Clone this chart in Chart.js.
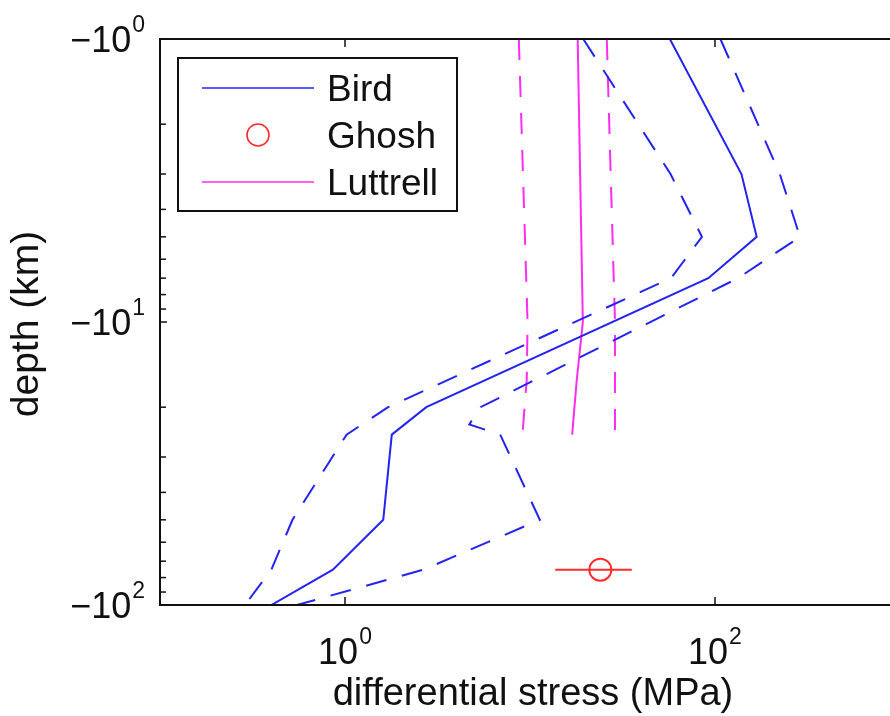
<!DOCTYPE html>
<html>
<head>
<meta charset="utf-8">
<script src="https://cdn.jsdelivr.net/npm/chart.js@4"></script>
<style>
  html, body { margin: 0; padding: 0; background: #fff; overflow: hidden; }
  canvas { display: block; }
</style>
</head>
<body>
<canvas id="c" width="890" height="716"></canvas>
<script>
// depth in km (plotted as -depth), stress in MPa
const birdDepth = [1, 3, 5, 7, 20, 25, 50, 75, 100];
const birdStress = [57, 139, 168, 92, 2.75, 1.79, 1.61, 0.86, 0.40];
const birdLeftStress = [19.4, 57.5, 85, 57.8, 1.71, 1.02, 0.52, 0.40, 0.288];
const birdRightDepth = [1, 3, 5, 7, 20, 23, 25, 50, 75, 100];
const birdRightStress = [107, 224, 288, 133, 5.4, 4.7, 6.9, 11.3, 2.66, 0.55];

const ghoshDepth = [75];
const ghoshStress = [24];
const ghoshRange = [13.7, 35.5];

const luttrellDepth = [1, 10, 16, 25];
const luttrellStress = [18.1, 19.3, 17.9, 16.9];
const luttrellLeft = [8.7, 9.7, 9.6, 9.1];
const luttrellRight = [26, 28.8, 28.8, 28.8];

const xTickExp = [0, 2];
const yTickExp = [0, 1, 2];
const yMinor = [2, 3, 4, 5, 6, 7, 8, 9];

const FONT = '"Liberation Sans", Arial, sans-serif';
const BLUE = "#2323f2";
const MAGENTA = "#ff2cf4";
const RED = "#ff2a2a";
const DASH = [21, 16];

function pts(xs, ys) {
  return xs.map((v, i) => ({ x: v, y: ys[i] }));
}

function line(label, data, color, dashed, legend) {
  return {
    label: label,
    data: data,
    showLine: true,
    borderColor: color,
    borderWidth: 2,
    borderDash: dashed ? DASH : [],
    pointRadius: 0,
    fill: false,
    tension: 0,
    inLegend: legend,
  };
}

function powerLabel(ctx, exp, x, y, align, minus) {
  const base = (minus ? "\u221210" : "10");
  ctx.font = "36px " + FONT;
  const wb = ctx.measureText(base).width;
  ctx.font = "23px " + FONT;
  const we = ctx.measureText(String(exp)).width;
  const w = wb + we + 1;
  let sx = x - w;
  if (align === "center") sx = x - w / 2;
  ctx.textAlign = "left";
  ctx.textBaseline = "alphabetic";
  ctx.font = "36px " + FONT;
  ctx.fillText(base, sx, y);
  ctx.font = "23px " + FONT;
  ctx.fillText(String(exp), sx + wb + 1, y - 20);
}

const axesPlugin = {
  id: "axesPlugin",
  afterDraw(chart) {
    const { ctx, chartArea: a } = chart;
    const xs = chart.scales.x, ys = chart.scales.y;
    ctx.save();
    ctx.strokeStyle = "#111";
    ctx.fillStyle = "#111";
    ctx.lineWidth = 2;

    // box (right side is outside the picture)
    ctx.beginPath();
    ctx.moveTo(a.right + 10, a.top);
    ctx.lineTo(a.left, a.top);
    ctx.lineTo(a.left, a.bottom);
    ctx.lineTo(a.right + 10, a.bottom);
    ctx.stroke();

    // x ticks, inward, top and bottom
    ctx.lineWidth = 1.5;
    xTickExp.forEach(e => {
      const px = xs.getPixelForValue(Math.pow(10, e));
      ctx.beginPath();
      ctx.moveTo(px, a.bottom); ctx.lineTo(px, a.bottom - 8);
      ctx.moveTo(px, a.top); ctx.lineTo(px, a.top + 8);
      ctx.stroke();
      powerLabel(ctx, e, px, a.bottom + 59, "center", false);
    });

    // y ticks (major + minor log ticks)
    yTickExp.forEach(e => {
      const py = ys.getPixelForValue(Math.pow(10, e));
      ctx.beginPath();
      ctx.moveTo(a.left, py); ctx.lineTo(a.left + 7, py);
      ctx.stroke();
      powerLabel(ctx, e, a.left - 15, py + 13, "right", true);
      if (e < 2) {
        yMinor.forEach(m => {
          const pm = ys.getPixelForValue(m * Math.pow(10, e));
          ctx.beginPath();
          ctx.moveTo(a.left, pm); ctx.lineTo(a.left + 6, pm);
          ctx.stroke();
        });
      }
    });

    // axis titles
    ctx.font = "38px " + FONT;
    ctx.textAlign = "center";
    ctx.textBaseline = "alphabetic";
    ctx.fillText("differential stress (MPa)", 533, 705);
    ctx.save();
    ctx.translate(38, 324);
    ctx.rotate(-Math.PI / 2);
    ctx.font = "39px " + FONT;
    ctx.fillText("depth (km)", 0, 0);
    ctx.restore();

    // legend
    const lx = 178, ly = 58, lw = 279, lh = 153;
    ctx.fillStyle = "#fff";
    ctx.fillRect(lx, ly, lw, lh);
    ctx.lineWidth = 2;
    ctx.strokeStyle = "#111";
    ctx.strokeRect(lx, ly, lw, lh);
    const rows = chart.data.datasets.filter(d => d.inLegend);
    rows.forEach((d, i) => {
      const ry = 88 + i * 47;
      ctx.setLineDash([]);
      if (d.showLine) {
        ctx.strokeStyle = d.borderColor;
        ctx.lineWidth = 1.6;
        ctx.beginPath();
        ctx.moveTo(202, ry); ctx.lineTo(314, ry);
        ctx.stroke();
      } else {
        ctx.strokeStyle = d.borderColor;
        ctx.lineWidth = 1.6;
        ctx.beginPath();
        ctx.arc(258, ry, 11, 0, Math.PI * 2);
        ctx.stroke();
      }
      ctx.fillStyle = "#111";
      ctx.font = "37px " + FONT;
      ctx.textAlign = "left";
      ctx.fillText(d.label, 327, ry + 13);
    });
    ctx.restore();
  }
};

const datasets = [
  line("Bird", pts(birdStress, birdDepth), BLUE, false, true),
  line("Bird (low)", pts(birdLeftStress, birdDepth), BLUE, true, false),
  line("Bird (high)", pts(birdRightStress, birdRightDepth), BLUE, true, false),
  {
    label: "Ghosh",
    data: pts(ghoshStress, ghoshDepth),
    showLine: false,
    pointStyle: "circle",
    pointRadius: 11,
    borderColor: RED,
    backgroundColor: "rgba(0,0,0,0)",
    borderWidth: 2,
    inLegend: true,
  },
  line("Ghosh range", pts(ghoshRange, [ghoshDepth[0], ghoshDepth[0]]), RED, false, false),
  line("Luttrell", pts(luttrellStress, luttrellDepth), MAGENTA, false, true),
  line("Luttrell (low)", pts(luttrellLeft, luttrellDepth), MAGENTA, true, false),
  line("Luttrell (high)", pts(luttrellRight, luttrellDepth), MAGENTA, true, false),
];

new Chart(document.getElementById("c"), {
  type: "scatter",
  data: { datasets: datasets },
  options: {
    responsive: false,
    animation: false,
    devicePixelRatio: 1,
    layout: { autoPadding: false, padding: { left: 160, top: 39, right: 0, bottom: 111 } },
    scales: {
      x: { type: "logarithmic", min: 0.1, max: 883, bounds: "data", display: false },
      y: { type: "logarithmic", min: 1, max: 100, bounds: "data", reverse: true, display: false },
    },
    plugins: {
      legend: { display: false },
      tooltip: { enabled: false },
    },
  },
  plugins: [axesPlugin],
});
</script>
</body>
</html>
